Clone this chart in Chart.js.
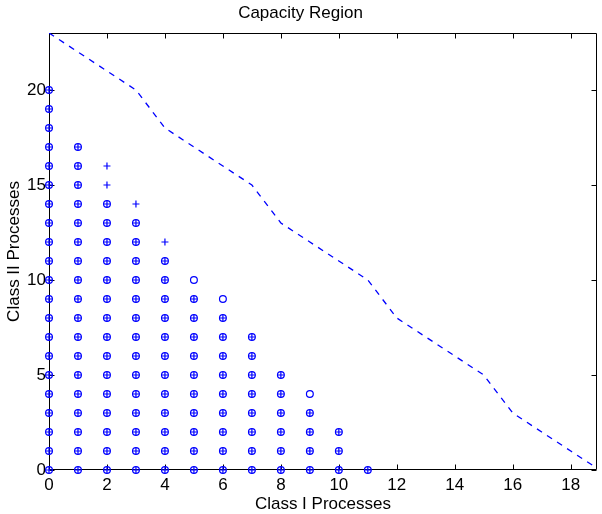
<!DOCTYPE html>
<html>
<head>
<meta charset="utf-8">
<title>Capacity Region</title>
<script src="https://cdn.jsdelivr.net/npm/chart.js@4.4.0/dist/chart.umd.min.js"></script>
<style>
  html, body { margin: 0; padding: 0; background: #fff; }
  #wrap { width: 602px; height: 514px; }
</style>
</head>
<body>
<div id="wrap"><canvas id="chart" width="602" height="514"></canvas></div>
<script>
// each column = a Class I count; the "top" arrays hold the highest Class II count marked there
const classI = [0, 1, 2, 3, 4, 5, 6, 7, 8, 9, 10, 11];
const circleTop = [20, 17, 14, 13, 11, 10, 9, 7, 5, 4, 2, 0];
const plusTop   = [20, 17, 16, 14, 12, 9, 8, 7, 5, 3, 2, 0];

// dashed capacity boundary
const boundaryI  = [0, 1, 2, 3, 4, 5, 6, 7, 8, 9, 10, 11, 12, 13, 14, 15, 16, 17, 18, 19];
const boundaryII = [23, 22, 21, 20, 18, 17, 16, 15, 13, 12, 11, 10, 8, 7, 6, 5, 3, 2, 1, 0];

const xTicks = [0, 2, 4, 6, 8, 10, 12, 14, 16, 18];
const yTicks = [0, 5, 10, 15, 20];

const BLUE = '#0000ff';
const FONT = "'Liberation Sans', Arial, sans-serif";

function columnPoints(tops) {
    const pts = [];
    classI.forEach((c, i) => {
        for (let k = 0; k <= tops[i]; k++) pts.push({ x: c, y: k });
    });
    return pts;
}

// MATLAB style box with inward ticks
const framePlugin = {
    id: 'frame',
    beforeDatasetsDraw(chart) {
        const { ctx, chartArea: a, scales: { x, y } } = chart;
        const L = Math.round(a.left) + 0.5, R = Math.round(a.right) - 0.5;
        const T = Math.round(a.top) + 0.5, B = Math.round(a.bottom) - 0.5;
        const len = 5;
        ctx.save();
        ctx.strokeStyle = '#000';
        ctx.lineWidth = 1;
        ctx.beginPath();
        ctx.rect(L, T, R - L, B - T);
        xTicks.forEach(v => {
            const px = Math.round(x.getPixelForValue(v)) + 0.5;
            ctx.moveTo(px, B); ctx.lineTo(px, B - len);
            ctx.moveTo(px, T); ctx.lineTo(px, T + len);
        });
        yTicks.forEach(v => {
            const py = Math.round(y.getPixelForValue(v)) + 0.5;
            ctx.moveTo(L, py); ctx.lineTo(L + len, py);
            ctx.moveTo(R, py); ctx.lineTo(R - len, py);
        });
        ctx.stroke();
        ctx.restore();
    }
};

new Chart(document.getElementById('chart'), {
    type: 'scatter',
    data: {
        datasets: [
            {
                type: 'line',
                data: boundaryI.map((v, i) => ({ x: v, y: boundaryII[i] })),
                borderColor: BLUE,
                borderWidth: 1.3,
                borderDash: [6, 6],
                pointRadius: 0,
                fill: false,
                tension: 0,
                clip: 0
            },
            {
                data: columnPoints(circleTop),
                pointStyle: 'circle',
                pointRadius: 3.4,
                pointBorderWidth: 1.2,
                pointBorderColor: BLUE,
                pointBackgroundColor: 'rgba(0,0,0,0)',
                clip: false
            },
            {
                data: columnPoints(plusTop),
                pointStyle: 'cross',
                pointRadius: 3.5,
                pointBorderWidth: 1.2,
                pointBorderColor: BLUE,
                clip: false
            }
        ]
    },
    options: {
        responsive: false,
        animation: false,
        layout: { padding: { left: 0, right: 1, top: 0, bottom: 0 } },
        plugins: {
            legend: { display: false },
            tooltip: { enabled: false },
            title: {
                display: true,
                text: 'Capacity Region',
                color: '#000',
                font: { family: FONT, size: 17, weight: 'normal' },
                padding: { top: 3, bottom: 9.6 }
            }
        },
        scales: {
            x: {
                type: 'linear',
                min: 0,
                max: 18.9,
                afterBuildTicks: s => { s.ticks = xTicks.map(v => ({ value: v })); },
                afterFit: s => { s.height = 44; },
                grid: { display: false, drawTicks: false },
                border: { display: false },
                ticks: {
                    color: '#000',
                    padding: 5,
                    maxRotation: 0,
                    font: { family: FONT, size: 17 }
                },
                title: {
                    display: true,
                    text: 'Class I Processes',
                    color: '#000',
                    font: { family: FONT, size: 17 },
                    padding: { top: 0, bottom: -1 }
                }
            },
            y: {
                type: 'linear',
                min: 0,
                max: 23,
                afterBuildTicks: s => { s.ticks = yTicks.map(v => ({ value: v })); },
                afterFit: s => { s.width = 49; },
                grid: { display: false, drawTicks: false },
                border: { display: false },
                ticks: {
                    color: '#000',
                    padding: 3,
                    font: { family: FONT, size: 17 }
                },
                title: {
                    display: true,
                    text: 'Class II Processes',
                    color: '#000',
                    font: { family: FONT, size: 17 },
                    padding: { top: 4, bottom: 0 }
                }
            }
        }
    },
    plugins: [framePlugin]
});
</script>
</body>
</html>
